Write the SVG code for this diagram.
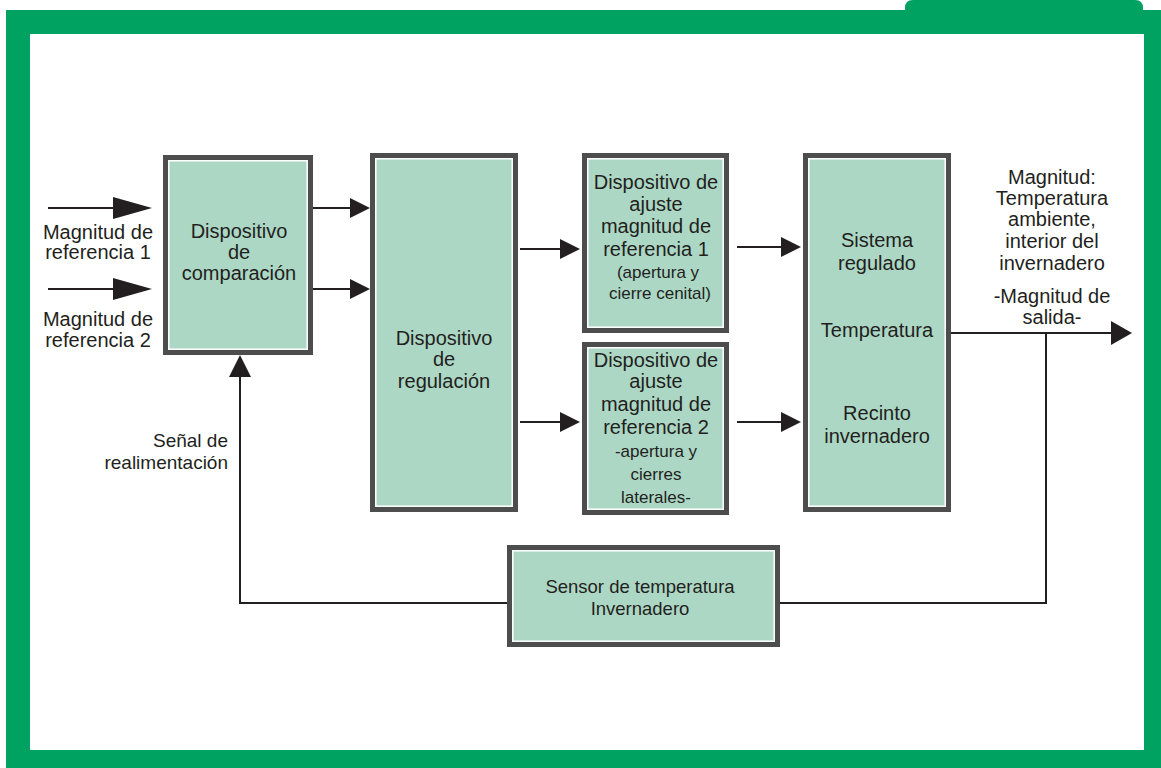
<svg xmlns="http://www.w3.org/2000/svg" width="1161" height="768" viewBox="0 0 1161 768">
<style>
.frame{fill:#00A262}
.box{fill:#ACD7C5;stroke:#4D4D4D;stroke-width:5}
.inner{fill:none;stroke:#FFFFFF;stroke-width:1.5}
.t{font-family:"Liberation Sans",Arial,sans-serif;font-size:20px;fill:#231F20;text-anchor:middle}
.s{font-size:17px}
.m{font-size:18.5px}
.f{font-size:19px}
.e{text-anchor:end}
.ln{fill:none;stroke:#231F20;stroke-width:2}
.hd{fill:#231F20}
</style>
<rect width="1161" height="768" fill="#FFFFFF"/>
<g id="frame">
<rect class="frame" x="6" y="10" width="1155" height="758"/>
<path class="frame" d="M905,12 L905,8 Q905,0 913,0 L1135,0 Q1143,0 1143,8 L1143,12 Z"/>
<rect x="30" y="34" width="1114" height="716" fill="#FFFFFF"/>
</g>
<g id="connectors">
<line class="ln" x1="48" y1="208" x2="115" y2="208"/>
<polygon class="hd" points="113,197 152,208 113,219"/>
<line class="ln" x1="48" y1="289" x2="115" y2="289"/>
<polygon class="hd" points="113,278 152,289 113,300"/>
<line class="ln" x1="313" y1="208" x2="352" y2="208"/>
<polygon class="hd" points="350,198 370,208 350,218"/>
<line class="ln" x1="313" y1="289" x2="352" y2="289"/>
<polygon class="hd" points="350,279 370,289 350,299"/>
<line class="ln" x1="520" y1="249" x2="562" y2="249"/>
<polygon class="hd" points="560,239 580,249 560,259"/>
<line class="ln" x1="520" y1="422" x2="562" y2="422"/>
<polygon class="hd" points="560,412 580,422 560,432"/>
<line class="ln" x1="737" y1="247" x2="783" y2="247"/>
<polygon class="hd" points="781,237 801,247 781,257"/>
<line class="ln" x1="737" y1="422" x2="783" y2="422"/>
<polygon class="hd" points="781,412 801,422 781,432"/>
<line class="ln" x1="951" y1="333" x2="1113" y2="333"/>
<polygon class="hd" points="1111,321 1132,333 1111,345"/>
<polyline class="ln" points="240,375 240,603 507,603"/>
<polygon class="hd" points="229,377 240,355 251,377"/>
<polyline class="ln" points="780,603 1046,603 1046,333"/>
</g>
<g id="labels">
<text class="t" x="98" y="239">Magnitud de</text>
<text class="t" x="98" y="259">referencia 1</text>
<text class="t" x="98" y="326">Magnitud de</text>
<text class="t" x="98" y="347">referencia 2</text>
<text class="t e f" x="228" y="447">Señal de</text>
<text class="t e f" x="228" y="469">realimentación</text>
<text class="t" x="1052" y="184">Magnitud:</text>
<text class="t" x="1052" y="205">Temperatura</text>
<text class="t" x="1052" y="226">ambiente,</text>
<text class="t" x="1052" y="248">interior del</text>
<text class="t" x="1052" y="270">invernadero</text>
<text class="t" x="1052" y="303">-Magnitud de</text>
<text class="t" x="1052" y="324">salida-</text>
</g>
<g id="comparacion">
<rect class="box" x="165.5" y="157.5" width="145" height="195"/>
<rect class="inner" x="168.8" y="160.8" width="138.4" height="188.4"/>
<text class="t" x="239" y="238">Dispositivo</text>
<text class="t" x="239" y="259">de</text>
<text class="t" x="239" y="280">comparación</text>
</g>
<g id="regulacion">
<rect class="box" x="372.5" y="155.5" width="143" height="354"/>
<rect class="inner" x="375.8" y="158.8" width="136.4" height="347.4"/>
<text class="t" x="444" y="345">Dispositivo</text>
<text class="t" x="444" y="366">de</text>
<text class="t" x="444" y="388">regulación</text>
</g>
<g id="ajuste1">
<rect class="box" x="584.5" y="155.5" width="142" height="175"/>
<rect class="inner" x="587.8" y="158.8" width="135.4" height="168.4"/>
<text class="t" x="656" y="189">Dispositivo de</text>
<text class="t" x="656" y="211">ajuste</text>
<text class="t" x="656" y="233">magnitud de</text>
<text class="t" x="656" y="256">referencia 1</text>
<text class="t s" x="658" y="278">(apertura y</text>
<text class="t s" x="660" y="299">cierre cenital)</text>
</g>
<g id="ajuste2">
<rect class="box" x="584.5" y="344.5" width="142" height="168"/>
<rect class="inner" x="587.8" y="347.8" width="135.4" height="161.4"/>
<text class="t" x="656" y="367">Dispositivo de</text>
<text class="t" x="656" y="388">ajuste</text>
<text class="t" x="656" y="411">magnitud de</text>
<text class="t" x="656" y="434">referencia 2</text>
<text class="t s" x="656" y="457">-apertura y</text>
<text class="t s" x="656" y="480">cierres</text>
<text class="t s" x="656" y="503">laterales-</text>
</g>
<g id="sistema">
<rect class="box" x="805.5" y="155.5" width="143" height="354"/>
<rect class="inner" x="808.8" y="158.8" width="136.4" height="347.4"/>
<text class="t" x="877" y="247">Sistema</text>
<text class="t" x="877" y="270">regulado</text>
<text class="t" x="877" y="337">Temperatura</text>
<text class="t" x="877" y="420">Recinto</text>
<text class="t" x="877" y="443">invernadero</text>
</g>
<g id="sensor">
<rect class="box" x="509.5" y="547.5" width="268" height="97"/>
<rect class="inner" x="512.8" y="550.8" width="261.4" height="90.4"/>
<text class="t m" x="640" y="593">Sensor de temperatura</text>
<text class="t m" x="640" y="615">Invernadero</text>
</g>
</svg>
